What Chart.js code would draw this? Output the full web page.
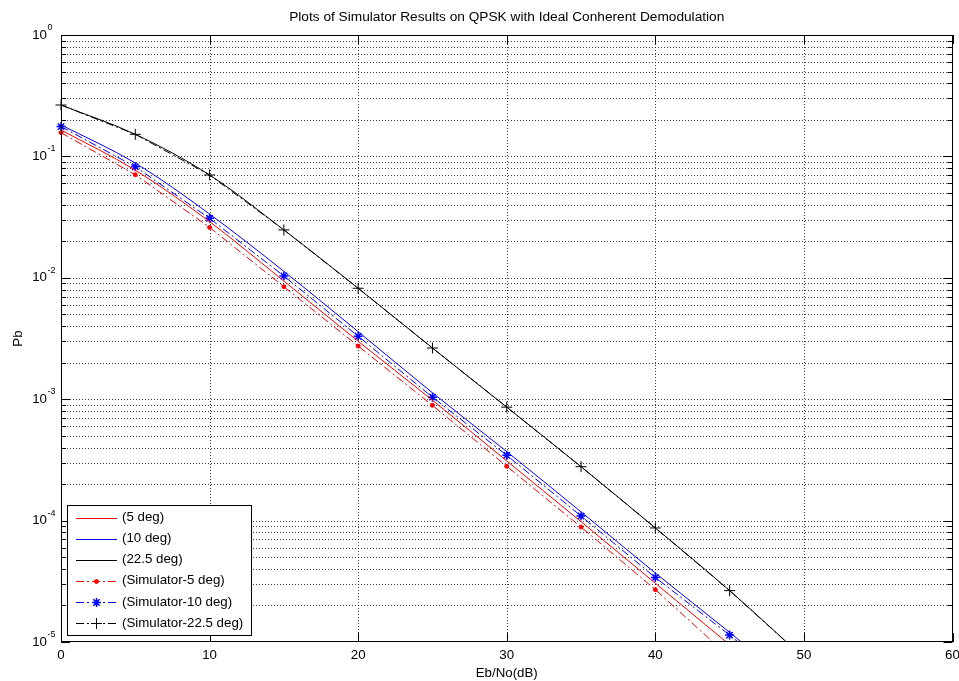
<!DOCTYPE html>
<html><head><meta charset="utf-8">
<script src="https://cdn.jsdelivr.net/npm/chart.js@4.4.1/dist/chart.umd.min.js"></script>
<style>html,body{margin:0;padding:0;background:#fff;overflow:hidden}#wrap{width:959px;height:681px}</style>
</head><body><div id="wrap"><canvas id="c" width="959" height="681"></canvas></div>
<script>
// ---------- data ----------
const ebNo       = [0, 5, 10, 15, 20, 25, 30, 35, 40, 45, 50];
const theory5    = [0.165, 0.077, 0.029, 0.0094, 0.0030, 9.8e-4, 3.1e-4, 9.8e-5, 3.05e-5, 9.5e-6, 3.0e-6];
const theory10   = [0.182, 0.088, 0.0335, 0.0113, 0.0036, 1.13e-3, 3.7e-4, 1.18e-4, 3.7e-5, 1.2e-5, 3.8e-6];
const theory225  = [0.265, 0.152, 0.0703, 0.0248, 0.0082, 2.64e-3, 8.6e-4, 2.78e-4, 8.7e-5, 2.65e-5, 7.4e-6];
const sim5       = [0.157, 0.0706, 0.026, 0.00845, 0.00274, 8.9e-4, 2.8e-4, 8.85e-5, 2.7e-5, 7.5e-6, 2.2e-6];
const sim10      = [0.176, 0.0822, 0.0309, 0.01035, 0.0033, 1.04e-3, 3.45e-4, 1.09e-4, 3.4e-5, 1.14e-5, 3.6e-6];
const sim225     = [0.265, 0.152, 0.0703, 0.0248, 0.0082, 2.64e-3, 8.6e-4, 2.78e-4, 8.7e-5, 2.65e-5, 7.4e-6];
const seriesLabels = ['(5 deg)', '(10 deg)', '(22.5 deg)', '(Simulator-5 deg)', '(Simulator-10 deg)', '(Simulator-22.5 deg)'];
const xTicks     = [0, 10, 20, 30, 40, 50, 60];
const yExponents = [0, -1, -2, -3, -4, -5];
const titleText  = 'Plots of Simulator Results on QPSK with Ideal Conherent Demodulation';
const xTitle     = 'Eb/No(dB)';
const yTitle     = 'Pb';

// ---------- styles ----------
const RED = '#ff0000', BLUE = '#0000ff', BLACK = '#000000';
const FONT = '"Liberation Sans", Arial, Helvetica, sans-serif';
const DASHDOT = [8, 3, 2, 3];
const CLIP = {left: 8, top: 8, right: 8, bottom: 0};
const xy = (xs, ys) => xs.map((x, i) => ({x, y: ys[i]}));

function theoryDs(label, ys, color) {
  return {label, data: xy(ebNo, ys), borderColor: color, backgroundColor: color, borderWidth: 1,
          pointRadius: 0, cubicInterpolationMode: 'monotone', clip: CLIP};
}
function simDs(label, ys, color, style, radius, pw) {
  return {label, data: xy(ebNo, ys), borderColor: color, backgroundColor: color, borderWidth: 1,
          borderDash: DASHDOT, tension: 0, pointStyle: style, pointRadius: radius,
          pointBorderColor: color, pointBackgroundColor: color, pointBorderWidth: pw, clip: CLIP};
}

const datasets = [
  theoryDs(seriesLabels[0], theory5, RED),
  theoryDs(seriesLabels[1], theory10, BLUE),
  theoryDs(seriesLabels[2], theory225, BLACK),
  simDs(seriesLabels[3], sim5, RED, 'circle', 2, 1),
  simDs(seriesLabels[4], sim10, BLUE, 'star', 4.5, 1.5),
  simDs(seriesLabels[5], sim225, BLACK, 'cross', 5.5, 1)
];

function line(ctx, x0, y0, x1, y1) { ctx.beginPath(); ctx.moveTo(x0, y0); ctx.lineTo(x1, y1); ctx.stroke(); }

const matlabAxes = {
  id: 'matlabAxes',
  beforeDatasetsDraw(chart) {
    const {ctx, chartArea: a, scales: {x, y}} = chart;
    ctx.save();
    ctx.strokeStyle = 'rgba(0,0,0,0.75)';
    ctx.lineWidth = 1;
    ctx.setLineDash([1, 2]);
    xTicks.forEach(v => {
      const px = Math.round(x.getPixelForValue(v)) + 0.5;
      if (px <= a.left + 1 || px >= a.right - 1) return;
      line(ctx, px, a.top, px, a.bottom);
    });
    yExponents.forEach(e => {
      for (let m = 1; m <= 9; m++) {
        const v = m * Math.pow(10, e);
        if (v > 1.0001) break;
        const py = Math.round(y.getPixelForValue(v)) + 0.5;
        if (py <= a.top + 1 || py >= a.bottom - 1) continue;
        line(ctx, a.left, py, a.right, py);
      }
    });
    ctx.restore();
  },
  afterDatasetsDraw(chart) {
    const {ctx, chartArea: a, scales: {x, y}} = chart;
    ctx.save();
    ctx.setLineDash([]);
    ctx.strokeStyle = '#000';
    ctx.lineWidth = 1;
    // box
    ctx.strokeRect(Math.round(a.left) + 0.5, Math.round(a.top) + 0.5, Math.round(a.right - a.left) - 1, Math.round(a.bottom - a.top) - 1);
    // x ticks (bottom and top, inward)
    xTicks.forEach(v => {
      const px = Math.round(x.getPixelForValue(v)) + 0.5;
      line(ctx, px, a.bottom, px, a.bottom - 9);
      line(ctx, px, a.top, px, a.top + 9);
    });
    // y ticks (left and right, inward)
    yExponents.forEach(e => {
      for (let m = 1; m <= 9; m++) {
        const v = m * Math.pow(10, e);
        if (v > 1.0001) break;
        const py = Math.round(y.getPixelForValue(v)) + 0.5;
        const len = m === 1 ? 9 : 5;
        line(ctx, a.left, py, a.left + len, py);
        line(ctx, a.right, py, a.right - len, py);
      }
    });
    // tick labels
    ctx.fillStyle = '#000';
    ctx.font = '13.3px ' + FONT;
    ctx.textAlign = 'center';
    ctx.textBaseline = 'middle';
    xTicks.forEach(v => ctx.fillText(String(v), x.getPixelForValue(v), a.bottom + 13));
    yExponents.forEach(e => {
      const py = y.getPixelForValue(Math.pow(10, e));
      ctx.font = '13.3px ' + FONT;
      ctx.textAlign = 'right';
      ctx.textBaseline = 'middle';
      ctx.fillText('10', a.left - 14, py);
      ctx.font = '9px ' + FONT;
      ctx.textAlign = 'left';
      ctx.textBaseline = 'alphabetic';
      ctx.fillText(String(e), a.left - 13.5, py - 5);
    });
    // titles
    ctx.textAlign = 'center';
    ctx.textBaseline = 'middle';
    const cx = (a.left + a.right) / 2;
    ctx.font = '13.7px ' + FONT;
    ctx.fillText(titleText, cx, 17);
    ctx.font = '13.3px ' + FONT;
    ctx.fillText(xTitle, cx, a.bottom + 31);
    ctx.save();
    ctx.translate(18, (a.top + a.bottom) / 2);
    ctx.rotate(-Math.PI / 2);
    ctx.fillText(yTitle, 0, 0);
    ctx.restore();
    // legend
    const lx = a.left + 6, ly = 505, lw = 184, lh = 130;
    ctx.fillStyle = '#fff';
    ctx.fillRect(lx, ly, lw, lh);
    ctx.strokeStyle = '#000';
    ctx.lineWidth = 1;
    ctx.strokeRect(lx + 0.5, ly + 0.5, lw, lh);
    chart.data.datasets.forEach((ds, i) => {
      const ry = ly + 12.5 + i * 21.1;
      const x0 = lx + 9, x1 = lx + 50, xm = (x0 + x1) / 2;
      ctx.strokeStyle = ds.borderColor;
      ctx.lineWidth = 1;
      ctx.setLineDash(ds.borderDash || []);
      line(ctx, x0, Math.round(ry) + 0.5, x1, Math.round(ry) + 0.5);
      ctx.setLineDash([]);
      if (ds.pointRadius > 0) {
        ctx.strokeStyle = ds.pointBorderColor;
        ctx.fillStyle = ds.pointBackgroundColor;
        ctx.lineWidth = ds.pointBorderWidth;
        Chart.helpers.drawPoint(ctx, {pointStyle: ds.pointStyle, radius: ds.pointRadius, borderWidth: ds.pointBorderWidth, rotation: 0}, xm, Math.round(ry) + 0.5);
      }
      ctx.fillStyle = '#000';
      ctx.font = '13.3px ' + FONT;
      ctx.textAlign = 'left';
      ctx.textBaseline = 'middle';
      ctx.fillText(ds.label, x1 + 5, ry);
    });
    ctx.restore();
  }
};

new Chart(document.getElementById('c'), {
  type: 'line',
  data: {datasets},
  options: {
    responsive: false,
    animation: false,
    devicePixelRatio: 1,
    layout: {padding: {top: 35, right: 6, left: 0, bottom: 0}},
    plugins: {legend: {display: false}, title: {display: false}, tooltip: {enabled: false}},
    scales: {
      x: {type: 'linear', min: 0, max: 60, ticks: {display: false}, grid: {display: false}, border: {display: false},
          afterFit(s) { s.height = 39; }},
      y: {type: 'logarithmic', min: 1e-5, max: 1, ticks: {display: false}, grid: {display: false}, border: {display: false},
          afterFit(s) { s.width = 61; }}
    }
  },
  plugins: [matlabAxes]
});
</script>
</body></html>
